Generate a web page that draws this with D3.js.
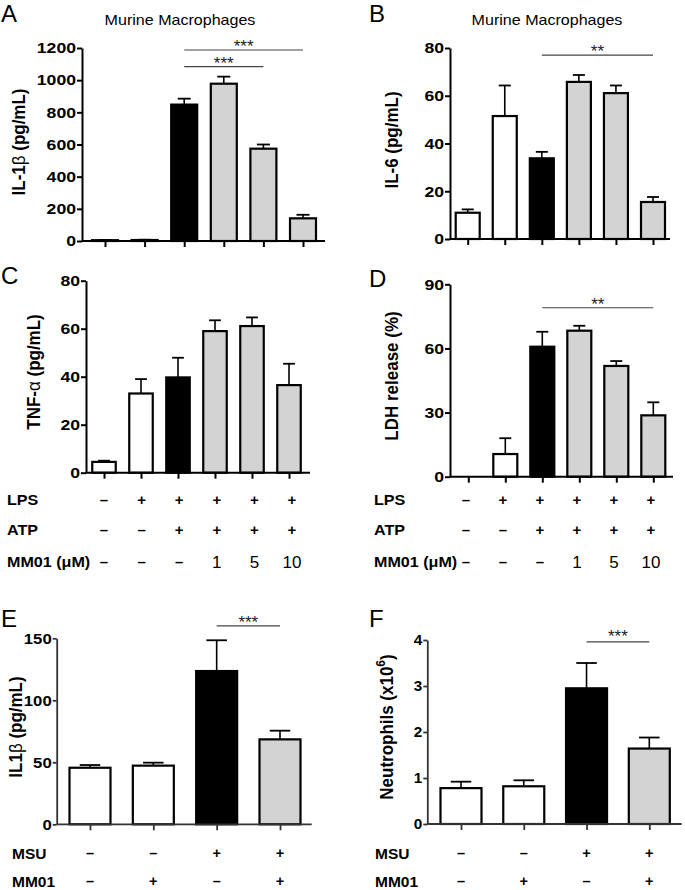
<!DOCTYPE html>
<html><head><meta charset="utf-8">
<script src="https://cdn.jsdelivr.net/npm/d3@7"></script>
<style>
body{margin:0;background:#fff}
svg{display:block}
text{font-family:"Liberation Sans",Arial,Helvetica,sans-serif}
</style>
</head><body>
<svg id="c" width="685" height="890"></svg>
<script>
// ---------------- DATA ----------------
const macroGroups = ["ctrl", "LPS", "LPS+ATP", "MM01 1", "MM01 5", "MM01 10"];
const msuGroups = ["ctrl", "MM01", "MSU", "MSU+MM01"];
const macroFill = ["open", "open", "control", "treated", "treated", "treated"];
const msuFill = ["open", "open", "control", "treated"];

const il1bMean = [5, 6, 848, 978, 574, 141];
const il1bSem  = [2, 2, 37, 44, 26, 22];
const il6Mean  = [11, 51.5, 33.8, 65.8, 61.1, 15.5];
const il6Sem   = [1.4, 12.8, 2.7, 2.9, 3.2, 2.1];
const tnfMean  = [4.5, 33, 39.7, 59, 61.1, 36.5];
const tnfSem   = [0.5, 6, 8.2, 4.5, 3.6, 8.9];
const ldhMean  = [0, 10.6, 60.8, 68.3, 51.8, 28.7];
const ldhSem   = [0, 7.4, 7, 2.3, 2.3, 6.1];
const msuIl1bMean = [45.6, 47.3, 123.6, 68.5];
const msuIl1bSem  = [2.2, 2.4, 24.8, 7];
const neutroMean  = [0.78, 0.82, 2.95, 1.64];
const neutroSem   = [0.14, 0.13, 0.55, 0.24];

const ticksIl1b = [0, 200, 400, 600, 800, 1000, 1200];
const ticks80   = [0, 20, 40, 60, 80];
const ticksLdh  = [0, 30, 60, 90];
const ticksMsu  = [0, 50, 100, 150];
const ticksNeut = [0, 1, 2, 3, 4];

// significance: [fromGroupIndex, toGroupIndex, yValue, label]
const sigA = [[2, 5, 1188, "***"], [2, 4, 1084, "***"]];
const sigB = [[2, 5, 77, "**"]];
const sigD = [[2, 5, 79, "**"]];
const sigE = [[2, 3, 160, "***"]];
const sigF = [[2, 3, 3.96, "***"]];

const lpsRow  = ["–", "+", "+", "+", "+", "+"];
const atpRow  = ["–", "–", "+", "+", "+", "+"];
const mm01Row = ["–", "–", "–", "1", "5", "10"];
const msuRow  = ["–", "–", "+", "+"];
const mm01MsuRow = ["–", "+", "–", "+"];

// ---------------- DRAW ----------------
const colors = {open: "#ffffff", control: "#000000", treated: "#d3d3d3"};
const svg = d3.select("#c");

// widen glyphs horizontally (the reference text is slightly stretched)
function stretchX(sel, k) {
  sel.each(function () {
    const L = this.getComputedTextLength();
    d3.select(this).attr("textLength", L * k).attr("lengthAdjust", "spacingAndGlyphs");
  });
}

function panel(o) {
  const g = svg.append("g");
  const x = d3.scalePoint().domain(o.groups).range([o.xFirst, o.xLast]);
  const y = d3.scaleLinear().domain([0, o.yMax]).range([o.yBottom, o.yTop]);

  // error bars (upper only)
  const eb = g.append("g");
  o.groups.forEach((d, i) => {
    if (o.sem[i] <= 0) return;
    eb.append("line").attr("x1", x(d)).attr("x2", x(d))
      .attr("y1", y(o.mean[i])).attr("y2", y(o.mean[i] + o.sem[i]))
      .attr("stroke", "#000").attr("stroke-width", 1.6);
    eb.append("line").attr("x1", x(d) - o.bw / 4).attr("x2", x(d) + o.bw / 4)
      .attr("y1", y(o.mean[i] + o.sem[i])).attr("y2", y(o.mean[i] + o.sem[i]))
      .attr("stroke", "#000").attr("stroke-width", 1.8);
  });

  // bars
  g.append("g").selectAll("rect").data(o.groups).join("rect")
    .attr("x", d => x(d) - o.bw / 2).attr("width", o.bw)
    .attr("y", (d, i) => y(o.mean[i]))
    .attr("height", (d, i) => y(0) - y(o.mean[i]))
    .attr("fill", (d, i) => colors[o.fill[i]])
    .attr("stroke", "#000").attr("stroke-width", 2.2);

  // y axis
  const ya = g.append("g").attr("transform", `translate(${o.xAxis0},0)`)
    .call(d3.axisLeft(y).tickValues(o.ticks).tickFormat(d3.format("d"))
      .tickSize(o.tickLen).tickSizeOuter(0).tickPadding(1));
  ya.selectAll("path,line").attr("stroke", o.axisColor).attr("stroke-width", o.axisW);
  ya.selectAll("text").style("font-size", o.tickFont + "px").style("font-weight", "bold")
    .attr("fill", "#000")
    .attr("textLength", function () { return this.textContent.length * o.digitW; })
    .attr("lengthAdjust", "spacingAndGlyphs");

  // x axis
  const xa = g.append("g").attr("transform", `translate(0,${y(0)})`)
    .call(d3.axisBottom(x).tickSize(6).tickSizeOuter(0).tickFormat(() => ""));
  xa.select(".domain").attr("d", `M${o.xAxis0},0H${o.xAxis1}`);
  xa.selectAll("path,line").attr("stroke", o.axisColor).attr("stroke-width", o.axisW);

  // y label
  const yl = g.append("text")
    .attr("transform", `translate(${o.ylabelX},${o.ylabelY}) rotate(-90) scale(1,1.12)`)
    .attr("text-anchor", "middle").attr("dy", "0.36em")
    .style("font-size", o.ylabelFont + "px").style("font-weight", "bold");
  o.ylabel(yl);

  // significance
  (o.sig || []).forEach(s => {
    const yy = y(s[2]);
    g.append("line").attr("x1", x(o.groups[s[0]])).attr("x2", x(o.groups[s[1]]))
      .attr("y1", yy).attr("y2", yy).attr("stroke", "#444").attr("stroke-width", 1.1);
    g.append("text").attr("x", (x(o.groups[s[0]]) + x(o.groups[s[1]])) / 2).attr("y", yy + o.starDy)
      .attr("text-anchor", "middle").style("font-size", "17px").attr("fill", "#222").text(s[3]);
  });

  // panel letter
  svg.append("text").attr("x", o.letterX).attr("y", o.letterY)
    .style("font-size", "24px").text(o.letter);

  if (o.title) {
    const t = svg.append("text").attr("x", o.titleX).attr("y", 25).attr("text-anchor", "middle")
      .style("font-size", "15px").text(o.title);
    stretchX(t, 1.07);
  }
  return x;
}

function table(rows, labels, xs, x0, ys, labelFont, labelK, signFont, numFont) {
  rows.forEach((row, r) => {
    const lt = svg.append("text").attr("x", x0).attr("y", ys[r]).attr("dy", "0.36em")
      .style("font-size", labelFont + "px").style("font-weight", "bold")
      .text(labels[r]);
    stretchX(lt, labelK);
    row.forEach((v, i) => {
      const isNum = !(v === "+" || v === "–");
      svg.append("text").attr("x", xs(i)).attr("y", ys[r]).attr("dy", "0.36em")
        .attr("text-anchor", "middle")
        .style("font-size", (isNum ? numFont : signFont) + "px")
        .style("font-weight", isNum ? "normal" : "bold")
        .text(v);
    });
  });
}

const common = {axisColor: "#000", axisW: 2, tickLen: 5, tickFont: 15, digitW: 9.8, ylabelFont: 17, starDy: 2};

// A
panel(Object.assign({}, common, {
  groups: macroGroups, mean: il1bMean, sem: il1bSem, fill: macroFill, ticks: ticksIl1b,
  yMax: 1200, yBottom: 241, yTop: 48, xFirst: 105, xLast: 303, xAxis0: 82, xAxis1: 325, bw: 26,
  ylabelX: 18, ylabelY: 142, sig: sigA, letter: "A", letterX: 1, letterY: 22,
  title: "Murine Macrophages", titleX: 180,
  ylabel: t => { t.append("tspan").text("IL-1"); t.append("tspan").style("font-weight", "normal").text("β"); t.append("tspan").text("  (pg/mL)"); }
}));
// B
panel(Object.assign({}, common, {
  groups: macroGroups, mean: il6Mean, sem: il6Sem, fill: macroFill, ticks: ticks80,
  yMax: 80, yBottom: 239, yTop: 48, xFirst: 467.7, xLast: 653, xAxis0: 450, xAxis1: 670, bw: 24,
  ylabelX: 391, ylabelY: 140, sig: sigB, letter: "B", letterX: 369, letterY: 22,
  title: "Murine Macrophages", titleX: 547,
  ylabel: t => t.text("IL-6  (pg/mL)")
}));
// C
panel(Object.assign({}, common, {
  groups: macroGroups, mean: tnfMean, sem: tnfSem, fill: macroFill, ticks: ticks80,
  yMax: 80, yBottom: 472.7, yTop: 280.7, xFirst: 104, xLast: 289, xAxis0: 86, xAxis1: 310, bw: 23.5,
  ylabelX: 33, ylabelY: 372, letter: "C", letterX: 1, letterY: 284,
  ylabel: t => { t.append("tspan").text("TNF-"); t.append("tspan").style("font-weight", "normal").text("α"); t.append("tspan").text("  (pg/mL)"); }
}));
// D
panel(Object.assign({}, common, {
  groups: macroGroups, mean: ldhMean, sem: ldhSem, fill: macroFill, ticks: ticksLdh,
  yMax: 90, yBottom: 476.7, yTop: 284.3, xFirst: 468.3, xLast: 653.3, xAxis0: 450, xAxis1: 673, bw: 24,
  ylabelX: 391, ylabelY: 376, sig: sigD, letter: "D", letterX: 369, letterY: 287,
  ylabel: t => t.text("LDH release (%)")
}));
// E
const xE = panel(Object.assign({}, common, {
  groups: msuGroups, mean: msuIl1bMean, sem: msuIl1bSem, fill: msuFill, ticks: ticksMsu,
  yMax: 150, yBottom: 824.3, yTop: 638.3, xFirst: 90, xLast: 280, xAxis0: 56.7, xAxis1: 311.7, bw: 41,
  axisColor: "#333", axisW: 1.8, tickLen: 4, digitW: 9.3, starDy: 2,
  ylabelX: 15, ylabelY: 727, sig: sigE, letter: "E", letterX: 1, letterY: 627,
  ylabel: t => { t.append("tspan").text("IL1"); t.append("tspan").style("font-weight", "normal").text("β"); t.append("tspan").text(" (pg/mL)"); }
}));
// F
const xF = panel(Object.assign({}, common, {
  groups: msuGroups, mean: neutroMean, sem: neutroSem, fill: msuFill, ticks: ticksNeut,
  yMax: 4, yBottom: 824, yTop: 640, xFirst: 461, xLast: 649.3, xAxis0: 427.3, xAxis1: 681.7, bw: 41,
  axisColor: "#333", axisW: 1.8, tickLen: 4, digitW: 8.5, starDy: 0,
  ylabelX: 386, ylabelY: 727, sig: sigF, letter: "F", letterX: 369, letterY: 627,
  ylabel: t => { t.text("Neutrophils (x10"); t.append("tspan").attr("baseline-shift", "super").style("font-size", "12px").text("6"); t.append("tspan").text(")"); }
}));

// condition tables
const tblL = d3.scalePoint().domain(d3.range(6)).range([104, 292]);
const tblR = d3.scalePoint().domain(d3.range(6)).range([466, 651]);
table([lpsRow, atpRow, mm01Row], ["LPS", "ATP", "MM01 (μM)"], tblL, 7, [500, 530, 562], 14, 1.15, 15, 17);
table([lpsRow, atpRow, mm01Row], ["LPS", "ATP", "MM01 (μM)"], tblR, 374, [500, 530, 562], 14, 1.15, 15, 17);
table([msuRow, mm01MsuRow], ["MSU", "MM01"], i => xE(msuGroups[i]), 12, [853, 881], 15.5, 1.0, 14.5, 15);
table([msuRow, mm01MsuRow], ["MSU", "MM01"], i => xF(msuGroups[i]), 375, [853, 881], 15.5, 1.0, 14.5, 15);
</script>
</body></html>
